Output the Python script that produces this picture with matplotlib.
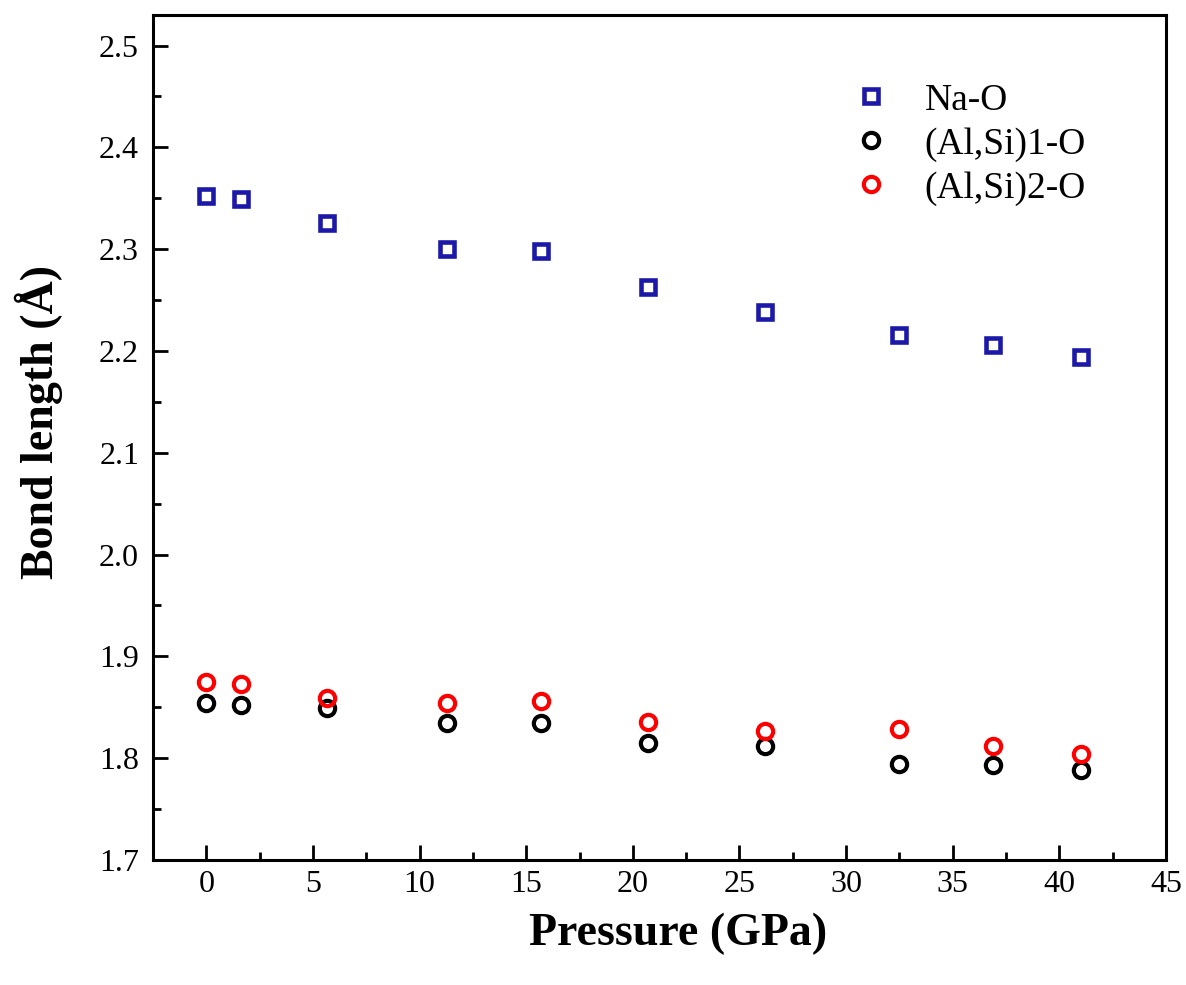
import matplotlib
matplotlib.use("Agg")
import matplotlib.pyplot as plt
from matplotlib.ticker import MultipleLocator

plt.rcParams['font.family'] = ['Liberation Serif', 'DejaVu Serif']

# pressure (GPa)
pressure = [0.0, 1.64, 5.68, 11.3, 15.7, 20.7, 26.2, 32.5, 36.9, 41.0]
# bond lengths (A)
na_o = [2.352, 2.349, 2.326, 2.300, 2.298, 2.263, 2.238, 2.216, 2.206, 2.194]
alsi1_o = [1.854, 1.852, 1.849, 1.835, 1.835, 1.815, 1.812, 1.794, 1.793, 1.788]
alsi2_o = [1.875, 1.873, 1.859, 1.854, 1.856, 1.836, 1.827, 1.829, 1.812, 1.804]

fig = plt.figure(figsize=(11.86, 9.85), dpi=100)
ax = fig.add_axes([153/1186, 1-860/985, (1166-153)/1186, (860-15)/985])

ax.plot(pressure, na_o, 's', ms=9.5, mfc='none', mec='#1c18a8', mew=3.3,
        label='Na-O', linestyle='none')
ax.plot(pressure, alsi1_o, 'o', ms=11, mfc='none', mec='black', mew=3.0,
        label='(Al,Si)1-O', linestyle='none')
ax.plot(pressure, alsi2_o, 'o', ms=11, mfc='none', mec='red', mew=3.0,
        label='(Al,Si)2-O', linestyle='none')

ax.set_xlim(-2.5, 45)
ax.set_ylim(1.7, 2.53)
ax.xaxis.set_major_locator(MultipleLocator(5))
ax.xaxis.set_minor_locator(MultipleLocator(2.5))
ax.yaxis.set_minor_locator(MultipleLocator(0.05))
ax.set_yticks([1.7, 1.8, 1.9, 2.0, 2.1, 2.2, 2.3, 2.4, 2.5])
ax.set_yticklabels(['1.7', '1.8', '1.9', '2.0', '2.1', '2.2', '2.3', '2.4', '2.5'])

ax.tick_params(which='both', direction='in', top=False, right=False,
               labelsize=23, width=2)
ax.tick_params(which='major', length=11)
ax.tick_params(axis='x', which='major', pad=7)
ax.tick_params(axis='y', which='major', pad=10)
ax.tick_params(which='minor', length=6)
for s in ax.spines.values():
    s.set_linewidth(2.2)

ax.set_xlabel('Pressure (GPa)', fontsize=33, fontweight='bold', labelpad=10)
ax.set_ylabel('Bond length (\u00c5)', fontsize=33, fontweight='bold', labelpad=26)
ax.xaxis.label.set_x(0.518)
ax.yaxis.label.set_y(0.518)

ax.legend(loc='upper left', frameon=False, fontsize=27, handlelength=1.0,
          handletextpad=0.94, labelspacing=0.25, borderaxespad=0,
          bbox_to_anchor=(837/1186, 1-68/985), bbox_transform=fig.transFigure)

fig.savefig('out.png', dpi=100)
